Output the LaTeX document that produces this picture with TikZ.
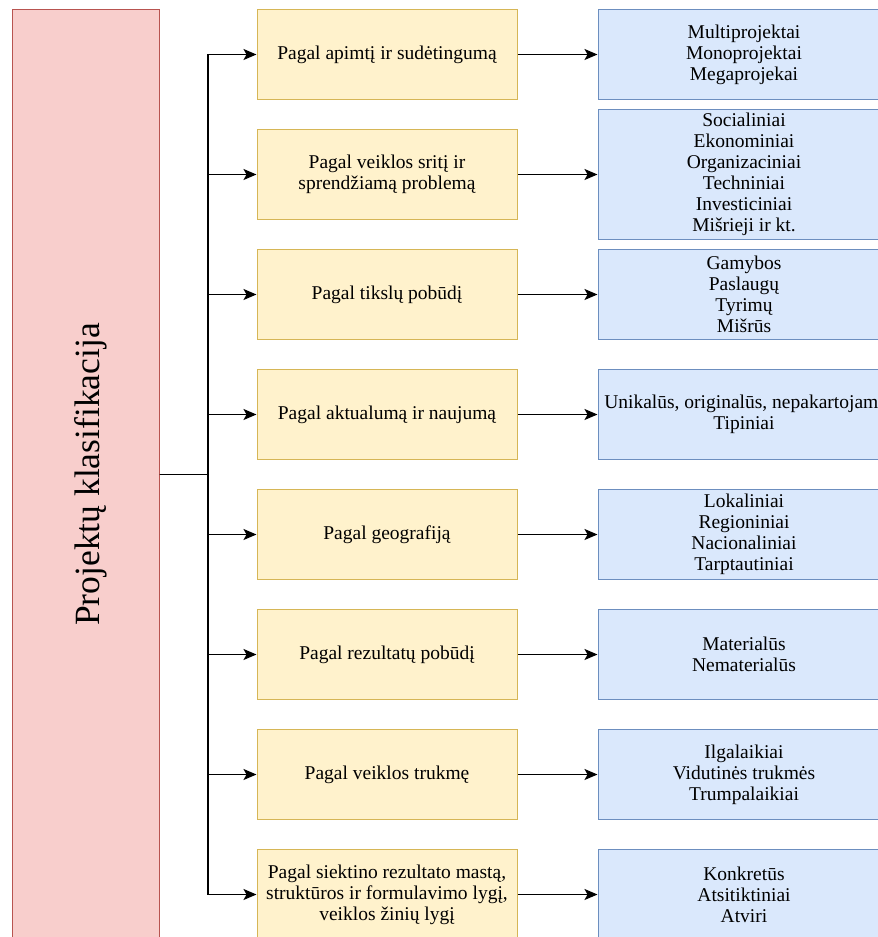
\documentclass[tikz,border=0pt]{standalone}
\usepackage{fontspec}
\usepackage{graphicx}
\setmainfont{Liberation Serif}
\usetikzlibrary{arrows.meta, positioning, calc}

\definecolor{rootfill}{HTML}{F8CECC}
\definecolor{rootline}{HTML}{B85450}
\definecolor{groupfill}{HTML}{FFF2CC}
\definecolor{groupline}{HTML}{D6B656}
\definecolor{kindfill}{HTML}{DAE8FC}
\definecolor{kindline}{HTML}{6C8EBF}

\begin{document}
\begin{tikzpicture}[
                every node/.style={align=center, font=\rmfamily\fontsize{19.5}{21}\selectfont, line width=1pt},
                root/.style={rectangle, draw=rootline, fill=rootfill, minimum width=147pt, minimum height=930pt},
                group/.style={rectangle, draw=groupline, fill=groupfill, minimum width=260pt, minimum height=90pt},
                kind/.style={rectangle, draw=kindline, fill=kindfill, minimum width=292pt, minimum height=90pt},
                line/.style={-{Stealth[length=13pt,width=11pt,inset=3pt]}, line width=1.3pt}
            ]
            \clip (0,0) rectangle (878pt,-937pt);

            \node[group] (G1) at (387pt,-54.5pt) {Pagal apimtį ir sudėtingumą};
            \node[group, below=29pt of G1] (G2) {Pagal veiklos sritį ir\\sprendžiamą problemą};
            \node[group, below=29pt of G2] (G3) {Pagal tikslų pobūdį};
            \node[group, below=29pt of G3] (G4) {Pagal aktualumą ir naujumą};
            \node[group, below=29pt of G4] (G5) {Pagal geografiją};
            \node[group, below=29pt of G5] (G6) {Pagal rezultatų pobūdį};
            \node[group, below=29pt of G6] (G7) {Pagal veiklos trukmę};
            \node[group, below=29pt of G7] (G8) {Pagal siektino rezultato mastą,\\struktūros ir formulavimo lygį,\\veiklos žinių lygį};

            \node[root, anchor=north east] (cls) at ([xshift=-97pt]G1.north west)
                {\rotatebox{90}{\raisebox{-13.5pt}[0pt][0pt]{\fontsize{35.5}{40}\selectfont Projektų klasifikacija}}};

            \node[kind, right=80pt of G1] (K1) {Multiprojektai\\Monoprojektai\\Megaprojekai};
            \node[kind, right=80pt of G2, minimum height=120pt] (K2) {Socialiniai\\Ekonominiai\\Organizaciniai\\Techniniai\\Investiciniai\\Mišrieji ir kt.};
            \node[kind, right=80pt of G3] (K3) {Gamybos\\Paslaugų\\Tyrimų\\Mišrūs};
            \node[kind, right=80pt of G4] (K4) {Unikalūs, originalūs, nepakartojami\\Tipiniai};
            \node[kind, right=80pt of G5] (K5) {Lokaliniai\\Regioniniai\\Nacionaliniai\\Tarptautiniai};
            \node[kind, right=80pt of G6] (K6) {Materialūs\\Nematerialūs};
            \node[kind, right=80pt of G7] (K7) {Ilgalaikiai\\Vidutinės trukmės\\Trumpalaikiai};
            \node[kind, right=80pt of G8] (K8) {Konkretūs\\Atsitiktiniai\\Atviri};

            \foreach \i in {1,...,8} {
                \draw[line] (cls.east) -- ++(48.5pt,0) |- (G\i.west);
                \draw[line] (G\i) -- (K\i);
            }
        \end{tikzpicture}
\end{document}
